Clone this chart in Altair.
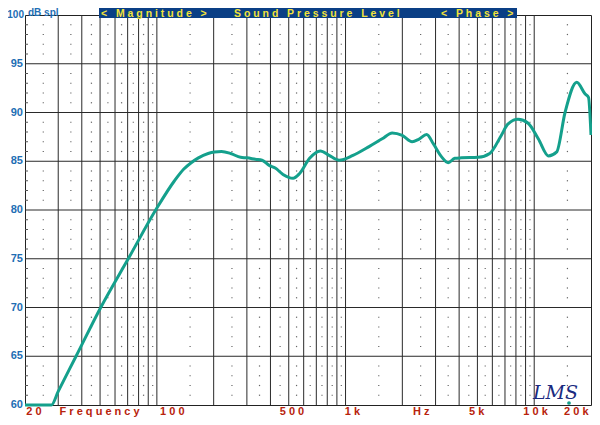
import altair as alt
import pandas as pd

# ---- data ----
freq = [20, 27.6, 30, 37.3, 50.4, 71, 100, 124, 139, 152, 166, 187, 202, 220, 246, 278, 300,
        333, 361, 392, 424, 466, 527, 571, 645, 735, 818, 925, 1095, 1333, 1564,
        1768, 1999, 2254, 2443, 2692, 2918, 3230, 3502, 3794, 4115, 5034, 5809,
        6689, 7252, 8206, 9286, 10509, 11895, 13163, 14568, 16807, 18618, 19400, 20000]
spl = [60, 60, 61.4, 65, 70, 75.1, 80.2, 83.0, 84.2, 84.85, 85.35, 85.8, 85.95, 86.0, 85.8, 85.4, 85.35,
       85.2, 85.1, 84.6, 84.3, 83.65, 83.25, 83.75, 85.3, 86.05, 85.6, 85.1, 85.6, 86.5, 87.3,
       87.9, 87.65, 87.0, 87.25, 87.75, 86.8, 85.45, 84.85, 85.3, 85.35, 85.4, 85.8,
       87.65, 88.8, 89.3, 88.9, 87.3, 85.55, 85.96, 90.0, 93.1, 91.9, 91.55, 87.7]

grid_freqs = [30, 40, 50, 60, 70, 80, 90, 100, 200, 300, 400, 500, 600, 700, 800, 900,
              1000, 2000, 3000, 4000, 5000, 6000, 7000, 8000, 9000, 10000]
dot_freqs = [25, 35, 45, 55, 65, 75, 85, 95, 150, 250, 350, 450, 550, 650, 750, 850, 950,
             1500, 2500, 3500, 4500, 5500, 6500, 7500, 8500, 9500, 15000]
grid_db = [65, 70, 75, 80, 85, 90, 95]
minor_db = [d for d in range(61, 100) if d % 5 != 0]
y_labels = [60, 65, 70, 75, 80, 85, 90, 95]
x_label_text = ["2 0", "F r e q u e n c y", "1 0 0", "5 0 0", "1 k", "H z", "5 k", "1 0 k", "2 0 k"]
x_label_pos = [20.3, 30.5, 104, 448, 990, 2281, 4519, 8756, 14400]
header_text = ["<   M a g n i t u d e   >",
               "S o u n d   P r e s s u r e   L e v e l",
               "<   P h a s e   >"]

NB = "\u00a0"
W, H = 566, 390

# ---- scales ----
xs = alt.Scale(type="log", domain=[20, 20000], nice=False)
ys = alt.Scale(domain=[60, 100], nice=False, zero=False)
FONT = "Liberation Sans"
BLUE = "#1e6eb4"
RED = "#b8230c"

curve = pd.DataFrame({"f": freq, "db": spl})
vlines = pd.DataFrame({"f": grid_freqs})
hlines = pd.DataFrame({"db": grid_db})
dots = pd.DataFrame([{"f": f, "db": d} for f in dot_freqs for d in minor_db])
ticks = pd.DataFrame({"db": minor_db})
ylab = pd.DataFrame({"db": y_labels, "t": [str(v) for v in y_labels]})
xlab = pd.DataFrame({"f": x_label_pos, "t": [t.replace(" ", NB) for t in x_label_text]})

v_layer = alt.Chart(vlines).mark_rule(color="#2a2a2a", strokeWidth=1).encode(
    x=alt.X("f:Q", scale=xs, axis=None))
h_layer = alt.Chart(hlines).mark_rule(color="#2a2a2a", strokeWidth=1).encode(
    y=alt.Y("db:Q", scale=ys, axis=None))
dot_layer = alt.Chart(dots).mark_square(size=1.5, color="#555", opacity=0.9).encode(
    x=alt.X("f:Q", scale=xs, axis=None), y=alt.Y("db:Q", scale=ys, axis=None))
tick_layer = alt.Chart(ticks).mark_rule(color="#555", strokeWidth=1).encode(
    y=alt.Y("db:Q", scale=ys, axis=None), x=alt.value(0), x2=alt.value(3))
line_layer = alt.Chart(curve).mark_line(color="#14a08c", strokeWidth=3,
                                        interpolate="monotone", clip=False).encode(
    x=alt.X("f:Q", scale=xs, axis=None), y=alt.Y("db:Q", scale=ys, axis=None))

ylab_layer = alt.Chart(ylab).mark_text(align="right", baseline="middle", font=FONT,
                                       fontWeight="bold", fontSize=11, color=BLUE).encode(
    y=alt.Y("db:Q", scale=ys, axis=None), x=alt.value(-2), text="t:N")
y100_layer = alt.Chart(pd.DataFrame({"db": [100], "t": ["100"]})).mark_text(
    align="right", baseline="middle", font=FONT, fontWeight="bold", fontSize=10,
    color=BLUE).encode(y=alt.Y("db:Q", scale=ys, axis=None), x=alt.value(-1), text="t:N")
xlab_layer = alt.Chart(xlab).mark_text(align="left", baseline="alphabetic", font=FONT,
                                       fontWeight="bold", fontSize=11, color=RED).encode(
    x=alt.X("f:Q", scale=xs, axis=None), y=alt.value(H + 10), text="t:N")

# header
bar = alt.Chart(pd.DataFrame({"a": [0]})).mark_rect(color="#0a3f85").encode(
    x=alt.value(74), x2=alt.value(492), y=alt.value(-7), y2=alt.value(3))
head_df = pd.DataFrame({"t": [t.replace(" ", NB) for t in header_text],
                        "px": [76, 209, 416]})
head = alt.Chart(head_df).mark_text(align="left", baseline="alphabetic", font=FONT,
                                    fontWeight="bold", fontSize=10.5, color="#f2e33a").encode(
    x=alt.X("px:Q", scale=None), y=alt.value(1.5), text="t:N")
dbspl = alt.Chart(pd.DataFrame({"t": ["dB" + NB + "spl"]})).mark_text(
    align="left", baseline="alphabetic", font=FONT, fontWeight="bold", fontSize=10,
    color=BLUE).encode(x=alt.value(3), y=alt.value(0.5), text="t:N")

# logo
logo = alt.Chart(pd.DataFrame({"t": ["LMS"]})).mark_text(
    align="left", baseline="alphabetic", font="DejaVu Serif", fontStyle="italic",
    fontSize=19, color="#1a2a80").encode(x=alt.value(508), y=alt.value(384), text="t:N")
logo_dot = alt.Chart(pd.DataFrame({"a": [0]})).mark_circle(size=14, color="#14a08c",
                                                           opacity=1).encode(
    x=alt.value(544), y=alt.value(388))

chart = alt.layer(
    v_layer, h_layer, dot_layer, tick_layer, line_layer,
    ylab_layer, y100_layer, xlab_layer, bar, head, dbspl, logo, logo_dot
).properties(
    width=W, height=H,
    autosize=alt.AutoSizeParams(type="none"),
    padding={"left": 17, "top": 7, "right": 1, "bottom": 12},
).configure_view(stroke="#222", strokeWidth=1)

chart.save("out.html", embed_options={"renderer": "svg", "actions": False})
